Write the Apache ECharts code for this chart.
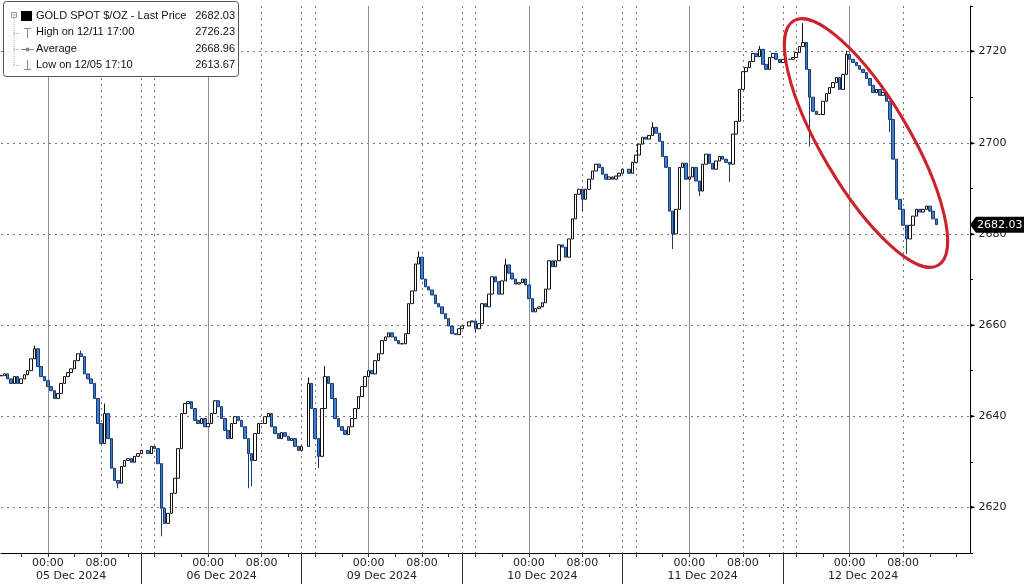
<!DOCTYPE html>
<html>
<head>
<meta charset="utf-8">
<title>GOLD SPOT $/OZ</title>
<script src="https://cdn.jsdelivr.net/npm/echarts@6/dist/echarts.min.js"></script>
<style>
  html, body { margin: 0; padding: 0; background: #fff; }
  #chart { width: 1024px; height: 584px; }
</style>
</head>
<body>
<div id="chart"></div>
<script>
// 30 minute bars, slot 14 = 05 Dec 00:00, trading days run 14:00 -> 14:00
var NSLOT = 291;
var sessionStart = [0, 44, 92, 140, 188, 236];
var sessionBreak = [42, 90, 138, 186, 234];
var sessionOpenLine = [46, 94, 142, 190, 238];
var dateLabels = ['05 Dec 2024', '06 Dec 2024', '09 Dec 2024', '10 Dec 2024', '11 Dec 2024', '12 Dec 2024'];
var dateLabelSlot = [21, 66, 114, 162, 210, 258];

// closes per session
var closeA = [2648.9, 2649.3, 2648.2, 2647.2, 2648.7, 2647.2, 2648.2, 2649.1, 2650.0, 2652.6,
  2654.8, 2650.9, 2648.7, 2647.8, 2646.5, 2645.6, 2643.9, 2645.0, 2647.2, 2648.7,
  2649.6, 2650.4, 2652.2, 2653.7, 2653.1, 2649.3, 2648.2, 2647.2, 2643.9, 2638.4,
  2634.0, 2640.6, 2635.1, 2628.6, 2625.9, 2625.3, 2629.0, 2630.3, 2630.7, 2629.9,
  2631.2, 2631.8, 2632.5];
var closeB = [2631.8, 2633.4, 2632.9, 2629.6, 2619.8, 2616.5, 2618.7, 2623.1, 2626.4, 2632.9,
  2640.6, 2642.8, 2643.2, 2641.7, 2639.1, 2638.4, 2639.5, 2637.7, 2638.4, 2640.6,
  2643.4, 2642.1, 2639.5, 2636.9, 2635.1, 2638.4, 2639.9, 2639.1, 2637.7, 2635.1,
  2631.8, 2630.3, 2636.2, 2638.4, 2638.4, 2639.9, 2640.6, 2637.7, 2636.2, 2635.1,
  2636.4, 2635.6, 2634.7, 2635.1, 2633.4, 2632.5, 2633.4];
var closeC = [2647.2, 2641.7, 2635.1, 2631.2, 2641.7, 2648.7, 2647.2, 2643.9, 2639.5, 2637.7,
  2636.9, 2636.0, 2637.7, 2639.5, 2641.7, 2644.3, 2646.5, 2648.7, 2650.0, 2649.3,
  2652.2, 2653.7, 2656.6, 2657.4, 2658.3, 2657.4, 2656.6, 2655.9, 2655.9, 2658.1,
  2664.7, 2667.5, 2673.4, 2674.9, 2670.1, 2668.4, 2667.7, 2666.6, 2664.7, 2664.0,
  2662.5, 2661.4, 2659.8, 2658.1, 2657.9, 2659.2, 2659.8];
var closeD = [2660.7, 2660.9, 2659.2, 2660.3, 2664.7, 2664.0, 2666.8, 2670.6, 2669.5, 2666.8,
  2669.7, 2673.2, 2671.4, 2670.1, 2669.0, 2669.3, 2670.1, 2668.8, 2665.8, 2662.9,
  2663.6, 2664.0, 2664.9, 2667.9, 2674.1, 2672.8, 2674.1, 2677.6, 2677.1, 2674.9,
  2678.9, 2683.3, 2688.7, 2689.8, 2687.6, 2689.8, 2692.0, 2693.8, 2695.3, 2694.6,
  2693.1, 2692.0, 2692.5, 2692.0, 2692.7, 2693.3, 2694.2];
var closeE = [2693.3, 2695.7, 2697.3, 2699.7, 2701.2, 2700.8, 2701.6, 2703.4, 2702.1, 2700.3,
  2697.0, 2694.6, 2685.0, 2680.0, 2685.4, 2694.6, 2695.5, 2692.0, 2692.5, 2694.6,
  2691.6, 2689.4, 2695.3, 2697.5, 2695.5, 2694.2, 2696.0, 2697.0, 2696.4, 2695.7,
  2695.3, 2701.9, 2704.7, 2711.7, 2715.6, 2716.5, 2717.8, 2719.6, 2718.9, 2720.5,
  2717.2, 2716.1, 2718.7, 2719.6, 2718.3, 2717.6, 2718.3];
var closeF = [2718.3, 2718.7, 2719.8, 2721.1, 2722.0, 2716.1, 2710.0, 2706.9, 2706.2, 2706.2,
  2709.1, 2710.8, 2712.1, 2713.2, 2714.3, 2711.7, 2715.0, 2719.4, 2718.3, 2717.6,
  2716.9, 2716.1, 2715.4, 2714.1, 2712.6, 2711.0, 2711.7, 2710.4, 2711.0, 2709.1,
  2705.1, 2696.4, 2687.6, 2685.4, 2681.9, 2678.9, 2681.9, 2683.9, 2685.4, 2684.8,
  2685.4, 2686.1, 2685.0, 2683.3, 2682.03];

// wick extremes [slot, price]
var wickHigh = [[10, 2655.5], [24, 2654.4], [31, 2642.8], [92, 2648.5], [97, 2651.0], [125, 2676.2],
  [151, 2674.5], [195, 2704.5], [227, 2721.2], [240, 2726.23], [253, 2720.2]];
var wickLow = [[35, 2624.2], [48, 2613.67], [74, 2624.2], [75, 2624.6], [95, 2628.6], [142, 2658.3],
  [174, 2685.0], [201, 2676.7], [209, 2688.3], [218, 2691.4], [242, 2699.2], [266, 2702.3], [271, 2675.6]];

var legendRows = [
  ['GOLD SPOT $/OZ - Last Price', '2682.03'],
  ['High on 12/11 17:00', '2726.23'],
  ['Average', '2668.96'],
  ['Low on 12/05 17:10', '2613.67']
];

function timeOf(i) {
  var m = (((i - 14) * 30) % 1440 + 1440) % 1440;
  var h = Math.floor(m / 60), mm = m % 60;
  return (h < 10 ? '0' : '') + h + ':' + (mm < 10 ? '0' : '') + mm;
}

var cats = [];
var candles = [];
for (var i = 0; i < NSLOT; i++) {
  cats.push(i + ' ' + timeOf(i));
  candles.push(['-', '-', '-', '-']);
}
var prev = null;
[closeA, closeB, closeC, closeD, closeE, closeF].forEach(function (arr, s) {
  arr.forEach(function (c, k) {
    var o = prev === null ? c : prev;
    candles[sessionStart[s] + k] = [o, c, Math.min(o, c), Math.max(o, c)];
    prev = c;
  });
});
wickHigh.forEach(function (p) { candles[p[0]][3] = Math.max(candles[p[0]][3], p[1]); });
wickLow.forEach(function (p) { candles[p[0]][2] = Math.min(candles[p[0]][2], p[1]); });
var lastClose = prev;

var chart = echarts.init(document.getElementById('chart'));
var FONT = 'DejaVu Sans';
var LEGEND_FONT = '11px "Liberation Sans"';

var legendGraphic = [
  { type: 'rect', shape: { x: 3.5, y: 1.5, width: 235, height: 75, r: 3 },
    style: { fill: '#fff', stroke: '#555', lineWidth: 1 }, z: 100 },
  { type: 'rect', shape: { x: 11.5, y: 12.5, width: 5, height: 5 },
    style: { fill: '#fff', stroke: '#999', lineWidth: 1 }, z: 101 },
  { type: 'line', shape: { x1: 12.5, y1: 15, x2: 15.5, y2: 15 }, style: { stroke: '#999' }, z: 101 },
  { type: 'line', shape: { x1: 14, y1: 18, x2: 14, y2: 65.5 }, style: { stroke: '#aaa', lineDash: [1, 1] }, z: 101 },
  { type: 'line', shape: { x1: 14, y1: 33.5, x2: 20, y2: 33.5 }, style: { stroke: '#aaa', lineDash: [1, 1] }, z: 101 },
  { type: 'line', shape: { x1: 14, y1: 49.5, x2: 20, y2: 49.5 }, style: { stroke: '#aaa', lineDash: [1, 1] }, z: 101 },
  { type: 'line', shape: { x1: 14, y1: 65.5, x2: 20, y2: 65.5 }, style: { stroke: '#aaa', lineDash: [1, 1] }, z: 101 },
  { type: 'rect', shape: { x: 21, y: 11, width: 11, height: 10 }, style: { fill: '#000' }, z: 101 },
  { type: 'line', shape: { x1: 24, y1: 28.5, x2: 31, y2: 28.5 }, style: { stroke: '#888' }, z: 101 },
  { type: 'line', shape: { x1: 27.5, y1: 28.5, x2: 27.5, y2: 38 }, style: { stroke: '#888' }, z: 101 },
  { type: 'line', shape: { x1: 21, y1: 49.5, x2: 34, y2: 49.5 }, style: { stroke: '#888' }, z: 101 },
  { type: 'circle', shape: { cx: 27.5, cy: 49.5, r: 2 }, style: { fill: '#888' }, z: 101 },
  { type: 'line', shape: { x1: 27.5, y1: 60, x2: 27.5, y2: 69.5 }, style: { stroke: '#888' }, z: 101 },
  { type: 'line', shape: { x1: 24, y1: 69.5, x2: 31, y2: 69.5 }, style: { stroke: '#888' }, z: 101 }
];
legendRows.forEach(function (r, k) {
  var y = 16 + k * 16.4;
  legendGraphic.push({ type: 'text', x: 36, y: y, z: 102,
    style: { text: r[0], fill: '#111', font: LEGEND_FONT, verticalAlign: 'middle' } });
  legendGraphic.push({ type: 'text', x: 235, y: y, z: 102,
    style: { text: r[1], fill: '#111', font: LEGEND_FONT, align: 'right', verticalAlign: 'middle' } });
});

// annotation ellipse round the 12 Dec drop
legendGraphic.push({
  type: 'ellipse', x: 866, y: 143, rotation: -1.037, z: 90,
  shape: { cx: 0, cy: 0, rx: 142, ry: 44 },
  style: { fill: 'none', stroke: '#cc2229', lineWidth: 3 }
});

var option = {
  animation: false,
  backgroundColor: '#fff',
  textStyle: { fontFamily: FONT },
  grid: { left: 1, right: 54, top: 6, bottom: 31, containLabel: false, outerBoundsMode: 'none' },
  xAxis: [
    {
      type: 'category', data: cats, boundaryGap: false, position: 'bottom',
      axisLine: { show: true, onZero: false, lineStyle: { color: '#000', width: 1 } },
      axisTick: { show: true, length: 4, lineStyle: { color: '#333' },
        interval: function (idx) { return (idx - 6) % 8 === 0; } },
      axisLabel: { show: true, color: '#222', fontSize: 11, margin: 5,
        interval: function (idx) { var t = timeOf(idx); return t === '00:00' || t === '08:00'; },
        formatter: function (v, idx) { return timeOf(idx); } },
      splitLine: { show: true, lineStyle: { color: '#8c8c8c', width: 1, type: 'solid' },
        interval: function (idx) { return timeOf(idx) === '00:00'; } }
    },
    {
      type: 'category', data: cats, boundaryGap: false, position: 'bottom',
      axisLine: { show: false }, axisTick: { show: false }, axisLabel: { show: false },
      splitLine: { show: true, lineStyle: { color: '#777', width: 1, type: [2, 4] },
        interval: function (idx) {
          return timeOf(idx) === '08:00' || sessionBreak.indexOf(idx) >= 0 || sessionOpenLine.indexOf(idx) >= 0;
        } }
    },
    {
      type: 'category', data: cats, boundaryGap: false, position: 'bottom',
      axisLine: { show: false },
      axisTick: { show: true, length: 32, lineStyle: { color: '#333' },
        interval: function (idx) { return sessionBreak.indexOf(idx) >= 0; } },
      axisLabel: { show: true, color: '#222', fontSize: 11, margin: 18,
        interval: function (idx) { return dateLabelSlot.indexOf(idx) >= 0; },
        formatter: function (v, idx) { return dateLabels[dateLabelSlot.indexOf(idx)] || ''; } },
      splitLine: { show: false }
    }
  ],
  yAxis: {
    type: 'value', position: 'right', min: 2610, max: 2730, interval: 10,
    axisLine: { show: true, lineStyle: { color: '#000' } },
    axisTick: { show: true, length: 3, lineStyle: { color: '#000' } },
    axisLabel: {
      margin: 0, color: '#222', fontSize: 11,
      formatter: function (v) {
        return (v % 20 === 0 && v > 2610 && v < 2730) ? '{m|\u25BA}{v|' + v + '}' : '';
      },
      rich: { m: { fontSize: 7, color: '#000', padding: [0, 3, 0, 0] }, v: { fontSize: 11, color: '#222' } }
    },
    splitLine: { show: true, lineStyle: { color: ['rgba(0,0,0,0)', '#777'], width: 1, type: [2, 4] } }
  },
  series: [{
    type: 'candlestick',
    xAxisIndex: 0, yAxisIndex: 0,
    barWidth: 3,
    data: candles,
    itemStyle: { color: '#ffffff', borderColor: '#111', color0: '#3a7fd5', borderColor0: '#1b3a6e', borderWidth: 1 }
  }],
  graphic: legendGraphic
};
chart.setOption(option);

// last price tag on the right axis
var py = chart.convertToPixel({ yAxisIndex: 0 }, lastClose);
var px = chart.convertToPixel({ xAxisIndex: 0 }, NSLOT - 1);
legendGraphic.push({
  type: 'polygon', z: 110,
  shape: { points: [[px, py], [px + 6, py - 8], [1024, py - 8], [1024, py + 8], [px + 6, py + 8]] },
  style: { fill: '#000' }
});
legendGraphic.push({
  type: 'text', x: px + 7, y: py, z: 111,
  style: { text: lastClose.toFixed(2), fill: '#fff', font: '11px ' + FONT, verticalAlign: 'middle' }
});
chart.setOption({ graphic: legendGraphic });
</script>
</body>
</html>
